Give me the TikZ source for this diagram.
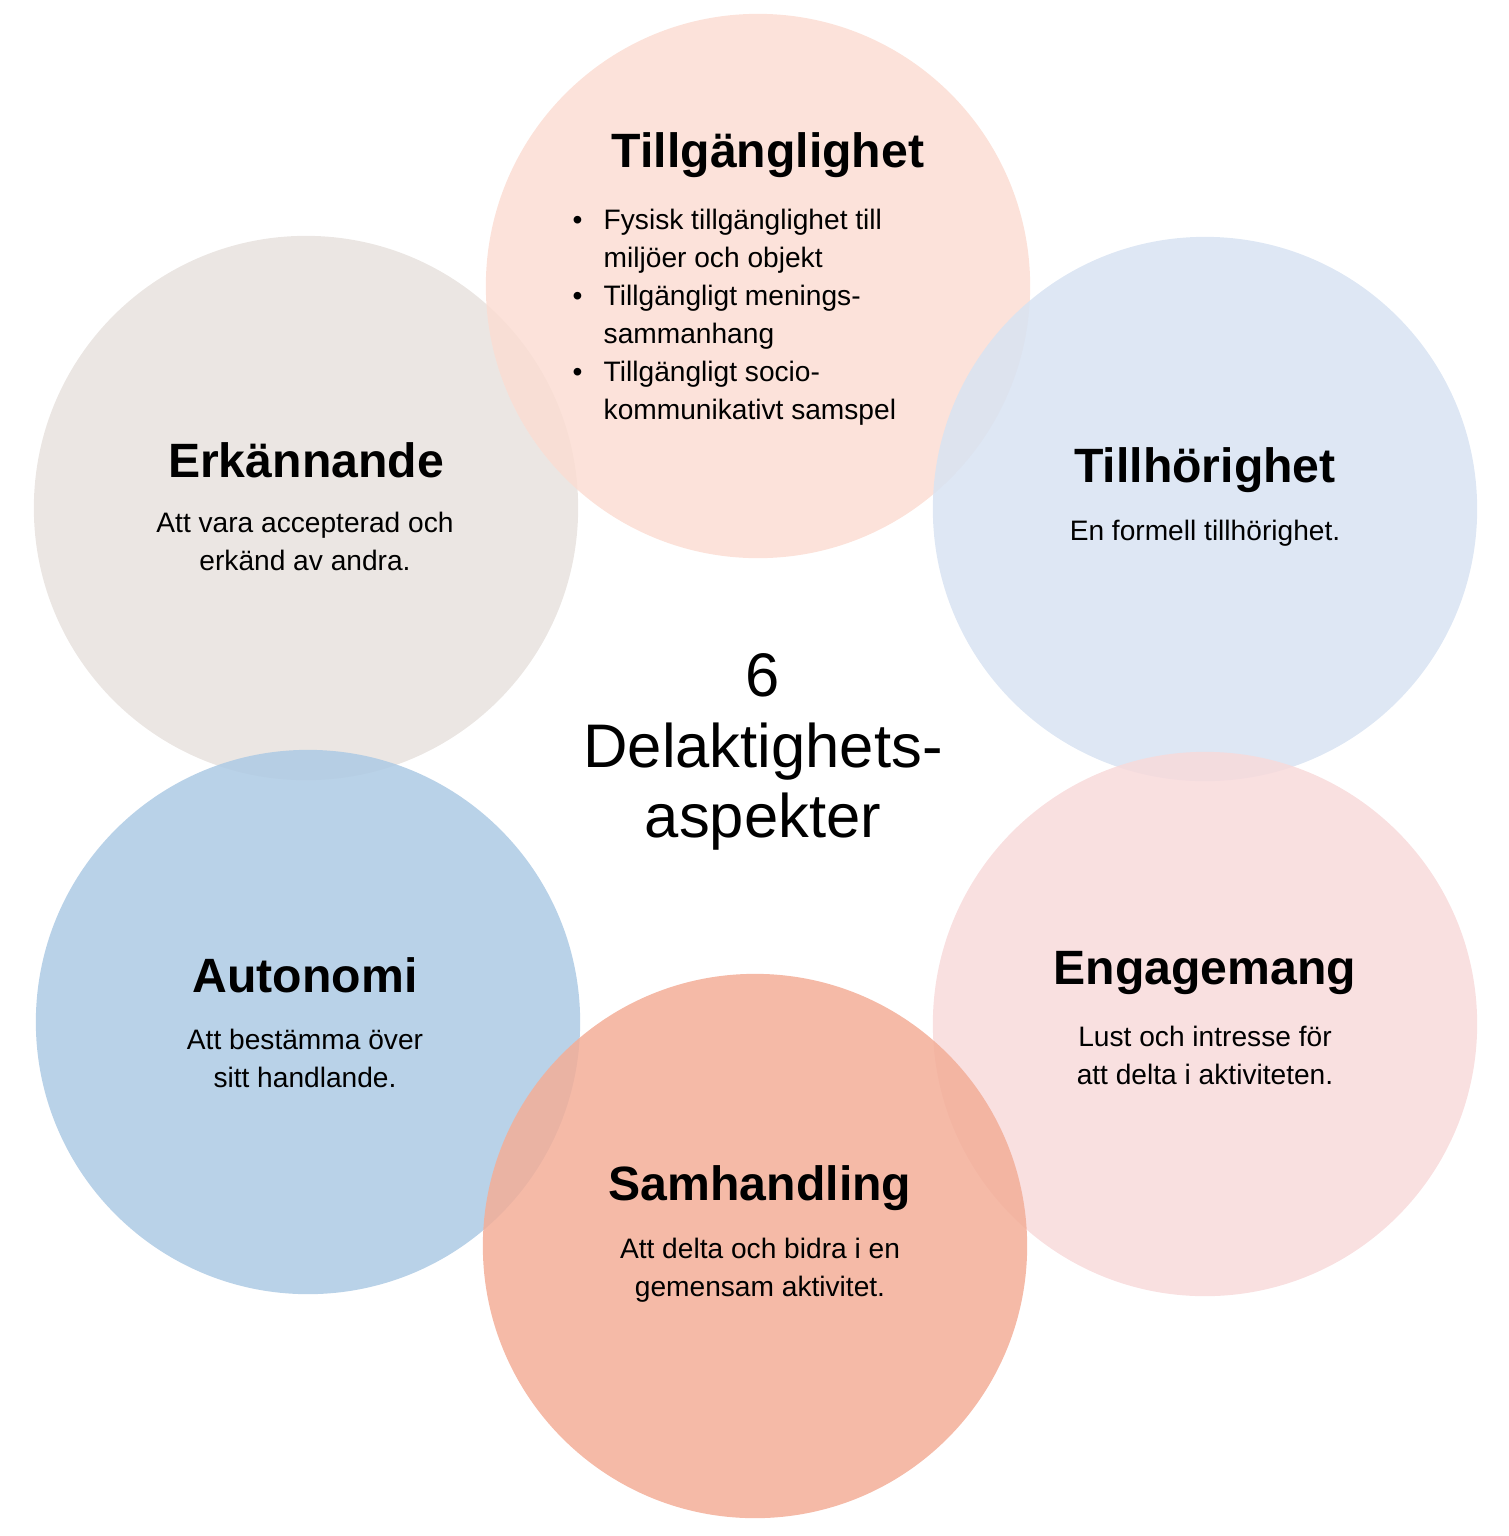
\documentclass[tikz,border=0pt]{standalone}
\usepackage{fontspec}
\setmainfont{Liberation Sans}
\definecolor{peach}{HTML}{FBDDD3}
\definecolor{lightblue}{HTML}{D8E3F2}
\definecolor{rose}{HTML}{F8DADB}
\definecolor{salmon}{HTML}{F3AE98}
\definecolor{midblue}{HTML}{ADCAE4}
\definecolor{stone}{HTML}{E8E2DE}
\begin{document}
\begin{tikzpicture}[x=0.01cm,y=-0.01cm]
		\tikzstyle{Aspect}=[circle,minimum size=5.44cm,inner sep=0pt,fill opacity=0.85,text opacity=1]
		\tikzstyle{Title}=[font=\fontsize{13.7}{16}\selectfont\bfseries]
		\tikzstyle{Body}=[font=\fontsize{8}{10.8}\selectfont,align=center]
		\useasboundingbox (0,0) rectangle (1508,1536);
		% circles
		\node[Aspect,fill=stone] (erk) at (306,508) {};
		\node[Aspect,fill=peach] (till) at (758,286) {};
		\node[Aspect,fill=lightblue] (tillh) at (1205,509) {};
		\node[Aspect,fill=rose] (eng) at (1205,1024) {};
		\node[Aspect,fill=midblue] (aut) at (308,1022) {};
		\node[Aspect,fill=salmon] (sam) at (755,1246) {};
		% texts
		\node[Title] (tillT) at (768,155) {Tillgänglighet};
		\node[Body,align=left,anchor=north west,inner sep=0pt] (tillB) at (572,202) {%
			\begin{tabular}{@{}p{0.31cm}@{}l@{}}
			\textbullet & Fysisk tillgänglighet till\\
			 & miljöer och objekt\\
			\textbullet & Tillgängligt menings-\\
			 & sammanhang\\
			\textbullet & Tillgängligt socio-\\
			 & kommunikativt samspel
			\end{tabular}};
		\node[Title] (erkT) at (306,460) {Erkännande};
		\node[Body] (erkB) at (305,541) {Att vara accepterad och\\erkänd av andra.};
		\node[Title] (tillhT) at (1205,470) {Tillhörighet};
		\node[Body] (tillhB) at (1205,533) {En formell tillhörighet.};
		\node[Title] (engT) at (1205,973) {Engagemang};
		\node[Body] (engB) at (1205,1055) {Lust och intresse för\\att delta i aktiviteten.};
		\node[Title] (autT) at (305,975) {Autonomi};
		\node[Body] (autB) at (305,1058) {Att bestämma över\\sitt handlande.};
		\node[Title] (samT) at (760,1188) {Samhandling};
		\node[Body] (samB) at (760,1270) {Att delta och bidra i en\\gemensam aktivitet.};
		\node[font=\fontsize{17.5}{20}\selectfont,align=center] (mid) at (763,752) {6\\Delaktighets-\\aspekter};
	\end{tikzpicture}
\end{document}
